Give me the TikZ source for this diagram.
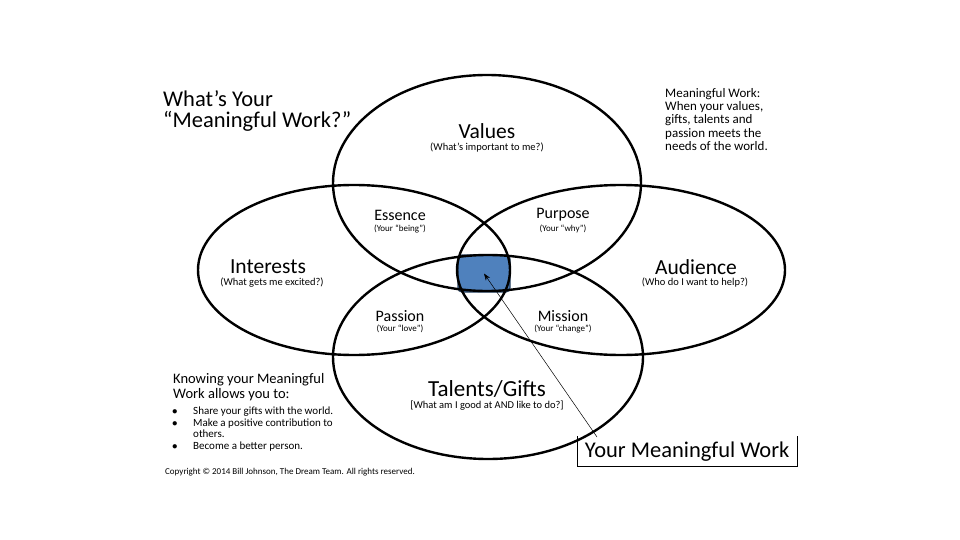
\documentclass[tikz,border=0pt]{standalone}
\usepackage{fontspec}
\setmainfont{Carlito}
\usetikzlibrary{positioning,arrows.meta}

\definecolor{coreblue}{RGB}{79,129,189}
\tikzset{
  ring/.style={line width=2.4pt,black},
  head/.style={font=\fontsize{21.5}{24}\selectfont,inner sep=0pt},
  subhead/.style={font=\fontsize{16}{18}\selectfont,inner sep=0pt},
  hint/.style={font=\fontsize{10.5}{12}\selectfont,inner sep=0pt},
  small/.style={font=\fontsize{13}{13.4}\selectfont,inner sep=0pt,align=left},
}

\begin{document}
\begin{tikzpicture}[x=1pt,y=-1pt]
    \useasboundingbox[fill=white] (0,0) rectangle (960,540);
    % the centre of it all
    \node[draw=coreblue!50!black,fill=coreblue,rounded corners=4pt,
          minimum width=52pt,minimum height=37pt,line width=1.2pt] (meaning) at (484,273.5) {};
    % four circles
    \draw[ring] (487,183) ellipse (154 and 108);
    \draw[ring] (488,357) ellipse (155 and 102);
    \draw[ring] (354,270) ellipse (156 and 85);
    \draw[ring] (621,270) ellipse (164 and 85);
    % labels
    \node[head] (values) at (487,131) {Values};
    \node[hint] at (487,148) {(What's important to me?)};
    \node[head] (interests) at (268,267) {Interests};
    \node[hint] at (272,283) {(What gets me excited?)};
    \node[head] (audience) at (696,267) {Audience};
    \node[hint] at (695,283) {(Who do I want to help?)};
    \node[head,font=\fontsize{23}{24}\selectfont] (talents) at (487,389) {Talents/Gifts};
    \node[hint] at (487,406) {[What am I good at AND like to do?]};
    \node[subhead] (essence) at (400,215) {Essence};
    \node[hint,font=\fontsize{9}{10}\selectfont] at (400,229) {(Your ``being'')};
    \node[subhead] (purpose) at (563,215) {Purpose};
    \node[hint,font=\fontsize{9}{10}\selectfont] at (563,229) {(Your ``why'')};
    \node[subhead] (passion) at (400,316) {Passion};
    \node[hint,font=\fontsize{9}{10}\selectfont] at (400,329) {(Your ``love'')};
    \node[subhead] (mission) at (563,316) {Mission};
    \node[hint,font=\fontsize{9}{10}\selectfont] at (563,329) {(Your ``change'')};
    % side texts
    \node[head,font=\fontsize{22.5}{21.5}\selectfont,align=left,anchor=west] (title) at (163,111) {What’s Your\\“Meaningful Work?”};
    \node[small,anchor=west] (defn) at (665,119.5) {Meaningful Work:\\When your values,\\gifts, talents and\\passion meets the\\needs of the world.};
    \node[small,font=\fontsize{14.5}{14.5}\selectfont,anchor=west] (knowing) at (173,387) {Knowing your Meaningful\\Work allows you to:};
    \node[small,font=\fontsize{11}{11.5}\selectfont,anchor=west] (benefits) at (172,429.5)
      {\begin{tabular}{@{}p{21pt}@{}l@{}}
        $\bullet$ & Share your gifts with the world.\\
        $\bullet$ & Make a positive contribution to\\
                  & others.\\
        $\bullet$ & Become a better person.
      \end{tabular}};
    \node[hint,font=\fontsize{9}{10}\selectfont,anchor=west] (copy) at (165,472)
      {Copyright © 2014 Bill Johnson, The Dream Team. All rights reserved.};
    % pointer to the middle
    \node[head,font=\fontsize{22.5}{24}\selectfont,minimum width=220pt,minimum height=30pt,anchor=north west] (ymw) at (577,436) {Your Meaningful Work};
    \draw[line width=0.9pt] (ymw.north west) -- (ymw.south west) -- (ymw.south east) -- (ymw.north east);
    \coordinate (tail) at (597,437);
    \draw[-{Stealth[length=7pt,width=5pt]},line width=0.5pt] (tail) -- (meaning.center);
\end{tikzpicture}
\end{document}
